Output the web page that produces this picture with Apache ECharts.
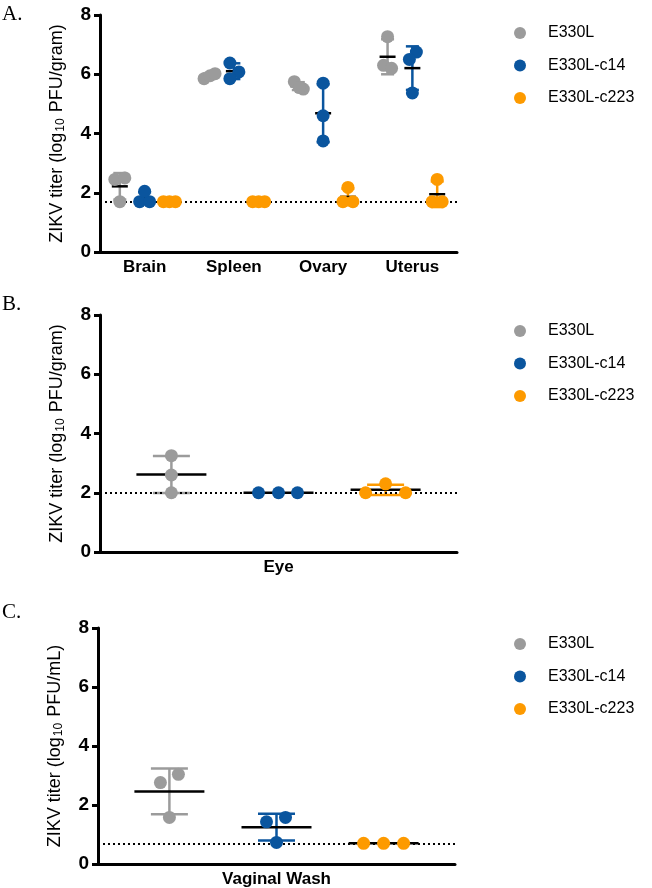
<!DOCTYPE html>
<html><head><meta charset="utf-8">
<script src="https://cdn.jsdelivr.net/npm/echarts@6/dist/echarts.min.js"></script>
<style>html,body{margin:0;padding:0;background:#fff}#c{width:652px;height:888px}</style>
</head><body><div id="c"></div>
<script>
// ---------- data ----------
const groups = ['E330L', 'E330L-c14', 'E330L-c223'];

const catsA = ['Brain', 'Spleen', 'Ovary', 'Uterus'];
const a_E330L = [[2.45, 2.5, 1.7], [5.85, 5.95, 6.02], [5.75, 5.5, 5.55], [7.27, 6.3, 6.2]];
const a_c14   = [[1.7, 1.7, 2.05], [6.38, 6.08, 5.85], [5.7, 4.6, 3.75], [6.75, 6.5, 5.37]];
const a_c223  = [[1.7, 1.7, 1.7], [1.7, 1.7, 1.7], [2.18, 1.7, 1.7], [2.45, 1.7, 1.7]];
const lodA = 1.7;

const catsB = ['Eye'];
const b_E330L = [[3.25, 2.6, 2.0]];
const b_c14   = [[2.0, 2.0, 2.0]];
const b_c223  = [[2.0, 2.3, 2.0]];
const lodB = 2.0;

const catsC = ['Vaginal Wash'];
const c_E330L = [[2.76, 3.04, 1.58]];
const c_c14   = [[1.43, 1.58, 0.73]];
const c_c223  = [[0.7, 0.7, 0.7]];
const lodC = 0.7;

const yTicks = [0, 2, 4, 6, 8];
const yNames = ['ZIKV titer (log{s|10} PFU/gram)', 'ZIKV titer (log{s|10} PFU/gram)', 'ZIKV titer (log{s|10} PFU/mL)'];
const panelLetters = ['A.', 'B.', 'C.'];

// ---------- style / layout ----------
const colors = ['#9b9b9b', '#0a559e', '#fd9a00'];
// pixel jitter of dots (style only)
const jitterA = [
  [[-5, 5, 0], [-5, 1, 6], [-4, 5, 1], [0, -4, 4]],
  [[-5, 5, 0], [-4, 5, -4], [0, 0, 0], [4, -3, 0]],
  [[-6, 0, 6], [-6, 0, 6], [0, -5, 5], [0, -5, 5]]
];
const jitterB = [[[0, 0, 0]], [[-20, 0, 19]], [[-20, 0, 20]]];
const jitterC = [[[-9, 9, 0]], [[-10, 9, 0]], [[-20, 0, 20]]];

const panels = [
  {cats: catsA, vals: [a_E330L, a_c14, a_c223], lod: lodA, jit: jitterA, top: 15, left: 100, shift: 0.278, capW: 13, meanW: 16},
  {cats: catsB, vals: [b_E330L, b_c14, b_c223], lod: lodB, jit: jitterB, top: 315, left: 100, shift: 0.30, capW: 37, meanW: 70},
  {cats: catsC, vals: [c_E330L, c_c14, c_c223], lod: lodC, jit: jitterC, top: 628, left: 98, shift: 0.30, capW: 37, meanW: 70}
];
const legendTops = [20, 318, 631];
const letterTops = [4, 294, 602];

function mean(a) { return a.reduce((s, v) => s + v, 0) / a.length; }
function sd(a) { const m = mean(a); return Math.sqrt(a.reduce((s, v) => s + (v - m) * (v - m), 0) / (a.length - 1)); }

const FONT = 'Liberation Sans, Arial, sans-serif';
const grid = [], xAxis = [], yAxis = [], series = [], legend = [], graphic = [];

panels.forEach((p, g) => {
  grid.push({left: p.left, top: p.top, width: 357, height: 237, containLabel: false});
  xAxis.push({
    type: 'category', gridIndex: g, data: p.cats, boundaryGap: true,
    axisLine: {onZero: false, lineStyle: {color: '#000', width: 3}},
    axisTick: {show: false},
    axisLabel: {color: '#000', fontWeight: 'bold', fontSize: 17, fontFamily: FONT, margin: 7}
  });
  xAxis.push({type: 'value', gridIndex: g, show: false, min: -0.5, max: p.cats.length - 0.5});
  yAxis.push({
    type: 'value', gridIndex: g, min: yTicks[0], max: yTicks[yTicks.length - 1], interval: yTicks[1] - yTicks[0],
    name: yNames[g], nameLocation: 'middle', nameGap: 33,
    nameTextStyle: {color: '#000', fontSize: 18, fontFamily: FONT,
      rich: {s: {fontSize: 12, fontFamily: FONT, color: '#000', padding: [7, 1, 0, 1]}}},
    axisLine: {show: true, onZero: false, lineStyle: {color: '#000', width: 3}},
    axisTick: {show: true, inside: false, length: 6, lineStyle: {color: '#000', width: 3}},
    axisLabel: {color: '#000', fontWeight: 'bold', fontSize: 19, fontFamily: FONT, margin: 9},
    splitLine: {show: false}
  });
  const xi = 2 * g + 1;
  // error bars & mean
  const stats = [];
  p.vals.forEach((gv, k) => {
    gv.forEach((reps, i) => {
      stats.push([i + (k - 1) * p.shift, mean(reps), sd(reps), k]);
    });
  });
  series.push({
    type: 'custom', xAxisIndex: xi, yAxisIndex: g, silent: true, z: 3,
    data: stats,
    renderItem: (params, api) => {
      const x = api.value(0), m = api.value(1), s = api.value(2), k = api.value(3);
      const pm = api.coord([x, m]), pt = api.coord([x, m + s]), pb = api.coord([x, m - s]);
      const col = colors[k];
      const ch = [];
      if (s > 0.001) {
        ch.push({type: 'line', shape: {x1: pt[0], y1: pt[1], x2: pb[0], y2: pb[1]}, style: {stroke: col, lineWidth: 2.5}});
        ch.push({type: 'line', shape: {x1: pt[0] - p.capW / 2, y1: pt[1], x2: pt[0] + p.capW / 2, y2: pt[1]}, style: {stroke: col, lineWidth: 2.5}});
        ch.push({type: 'line', shape: {x1: pb[0] - p.capW / 2, y1: pb[1], x2: pb[0] + p.capW / 2, y2: pb[1]}, style: {stroke: col, lineWidth: 2.5}});
      }
      ch.push({type: 'line', shape: {x1: pm[0] - p.meanW / 2, y1: pm[1], x2: pm[0] + p.meanW / 2, y2: pm[1]}, style: {stroke: '#000', lineWidth: 2.5}});
      return {type: 'group', children: ch};
    },
    markLine: {
      silent: true, symbol: 'none', label: {show: false}, animation: false,
      lineStyle: {color: '#000', type: [2, 3], width: 2},
      data: [{yAxis: p.lod}]
    }
  });
  // dots
  p.vals.forEach((gv, k) => {
    const data = [];
    gv.forEach((reps, i) => {
      reps.forEach((v, r) => {
        data.push({value: [i + (k - 1) * p.shift, v], symbolOffset: [p.jit[k][i][r], 0]});
      });
    });
    series.push({
      type: 'scatter', name: groups[k], xAxisIndex: xi, yAxisIndex: g, z: 5,
      symbol: 'circle', symbolSize: 13, itemStyle: {color: colors[k], opacity: 1},
      data
    });
  });
  legend.push({
    data: groups, orient: 'vertical', left: 509, top: legendTops[g], itemGap: 16.5,
    itemWidth: 46, itemHeight: 12, icon: 'circle', selectedMode: false,
    textStyle: {color: '#000', fontSize: 16, fontFamily: FONT}
  });
  graphic.push({type: 'text', left: 2, top: letterTops[g],
    style: {text: panelLetters[g], font: '21px "Liberation Serif", "Times New Roman", serif', fill: '#000'}});
});

const chart = echarts.init(document.getElementById('c'), null, {renderer: 'canvas'});
chart.setOption({animation: false, backgroundColor: '#fff', color: colors, grid, xAxis, yAxis, series, legend, graphic});
</script>
</body></html>
